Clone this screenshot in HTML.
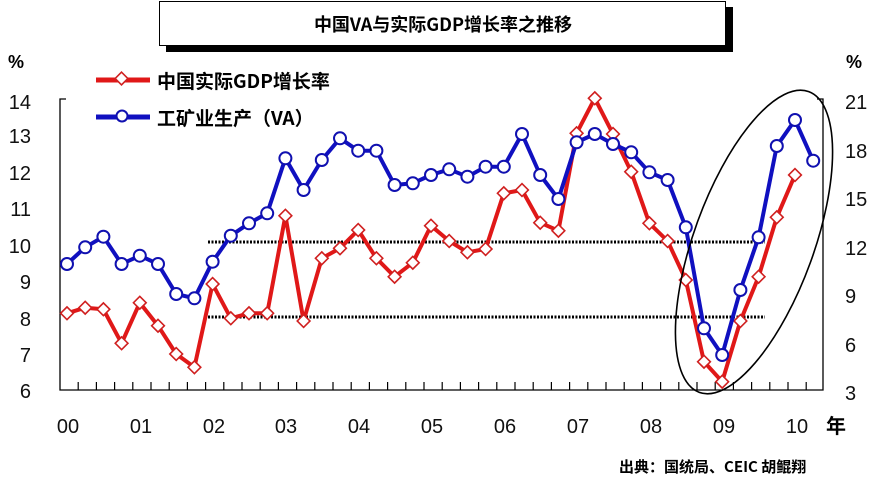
<!DOCTYPE html>
<html><head><meta charset="utf-8"><style>
html,body{margin:0;padding:0;background:#fff;}
svg{display:block;font-family:"Liberation Sans","Noto Sans CJK SC",sans-serif;}
</style></head><body>
<svg id="s" width="886" height="489" viewBox="0 0 886 489" xmlns="http://www.w3.org/2000/svg">
<rect x="0" y="0" width="886" height="489" fill="#fff"/>
<rect x="166" y="7" width="567" height="45" fill="#000"/>
<rect x="159.5" y="1.5" width="566" height="44" fill="#fff" stroke="#000" stroke-width="1"/>
<text x="443" y="31" text-anchor="middle" font-size="18" font-weight="bold" font-family="'Noto Sans CJK SC',sans-serif">中国VA与实际GDP增长率之推移</text>
<text x="8" y="68" font-size="18" font-weight="bold">%</text>
<text x="846" y="68" font-size="18" font-weight="bold">%</text>
<g font-size="20" fill="#111" text-anchor="end">
<text x="31" y="109">14</text><text x="31" y="143">13</text><text x="31" y="180">12</text><text x="31" y="216">11</text><text x="31" y="253">10</text><text x="31" y="289">9</text><text x="31" y="326">8</text><text x="31" y="362">7</text><text x="31" y="398">6</text>
</g>
<g font-size="20" fill="#111">
<text x="845" y="109">21</text><text x="845" y="158">18</text><text x="845" y="206">15</text><text x="845" y="255">12</text><text x="845" y="303">9</text><text x="845" y="352">6</text><text x="845" y="400">3</text>
</g>
<g font-size="20" fill="#111" text-anchor="middle">
<text x="68" y="433">00</text><text x="141" y="433">01</text><text x="214" y="433">02</text><text x="286" y="433">03</text><text x="359" y="433">04</text><text x="432" y="433">05</text><text x="505" y="433">06</text><text x="578" y="433">07</text><text x="651" y="433">08</text><text x="724" y="433">09</text><text x="797" y="433">10</text>
</g>
<text x="826" y="433" font-size="20" font-weight="bold" font-family="'Noto Sans CJK SC',sans-serif">年</text>
<text x="619" y="472" font-size="15" font-weight="bold" font-family="'Noto Sans CJK SC',sans-serif">出典：国统局、CEIC 胡鲲翔</text>
<path d="M66 99 H60 V390 H823 V99 H817" fill="none" stroke="#000" stroke-width="1.3"/>
<g id="ticks" stroke="#000" stroke-width="1.2"></g>
<line x1="208" y1="242" x2="765" y2="242" stroke="#000" stroke-width="3" stroke-dasharray="2,1.5"/>
<line x1="208" y1="317" x2="765" y2="317" stroke="#000" stroke-width="3" stroke-dasharray="2,1.5"/>
<g id="series"></g>
<ellipse cx="754" cy="242" rx="60" ry="160" transform="rotate(20 754 242)" fill="none" stroke="#000" stroke-width="1.6"/>
<line x1="96" y1="80" x2="150" y2="80" stroke="#e01818" stroke-width="5"/>
<rect x="117" y="74" width="9" height="9" transform="rotate(45 121.5 78.5)" fill="#fff" stroke="#d02020" stroke-width="1.6"/>
<line x1="96" y1="117" x2="150" y2="117" stroke="#1010c0" stroke-width="5"/>
<circle cx="122" cy="116" r="5.5" fill="#fff" stroke="#1010b0" stroke-width="2"/>
<text x="157" y="88" font-size="19" font-weight="bold" font-family="'Noto Sans CJK SC',sans-serif">中国实际GDP增长率</text>
<text x="157" y="125" font-size="19" font-weight="bold" font-family="'Noto Sans CJK SC',sans-serif">工矿业生产（VA）</text>
</svg>
<script>
var NS="http://www.w3.org/2000/svg";
var t=document.getElementById("ticks");
for(var k=1;k<42;k++){var x=60+18.2*k;var l=document.createElementNS(NS,"line");l.setAttribute("x1",x);l.setAttribute("x2",x);l.setAttribute("y1",382);l.setAttribute("y2",390);t.appendChild(l);}
var blue=[264,247.3,236.7,264,255.7,264,294,298.3,261.7,235.7,223.3,213.3,158.3,190,160,138.3,150.7,150.7,185,183.3,175,169.3,176.7,166.7,166.7,134,175,199,142.3,134,144,152.3,172.3,180,227.3,328.3,355,290,237.3,146,120,160.7];
var red=[313.3,307.7,309.3,343.3,302.7,325.7,354,367.3,284,318.3,313.3,313.3,215.7,321,258.3,248.3,230,258.3,276.7,262.7,225.7,241,252.3,249,193.3,190,222.7,230.7,133.3,98.3,134,171.7,223.3,241,280,361.7,381.7,321,276.7,217.3,175];
function X(i){return 67+i*18.2;}
var g=document.getElementById("series");
function poly(arr,col){var p=arr.map(function(y,i){return X(i)+","+y}).join(" ");var e=document.createElementNS(NS,"polyline");e.setAttribute("points",p);e.setAttribute("fill","none");e.setAttribute("stroke",col);e.setAttribute("stroke-width","4");e.setAttribute("stroke-linejoin","round");g.appendChild(e);}
poly(red,"#e01818");
red.forEach(function(y,i){var r=document.createElementNS(NS,"rect");var x=X(i);r.setAttribute("x",x-4.5);r.setAttribute("y",y-4.5);r.setAttribute("width",9);r.setAttribute("height",9);r.setAttribute("transform","rotate(45 "+x+" "+y+")");r.setAttribute("fill","#fff");r.setAttribute("stroke","#d02020");r.setAttribute("stroke-width","1.6");g.appendChild(r);});
poly(blue,"#1010c0");
blue.forEach(function(y,i){var c=document.createElementNS(NS,"circle");c.setAttribute("cx",X(i));c.setAttribute("cy",y);c.setAttribute("r",6);c.setAttribute("fill","#fff");c.setAttribute("stroke","#1010b0");c.setAttribute("stroke-width","2");g.appendChild(c);});
</script>
</body></html>
